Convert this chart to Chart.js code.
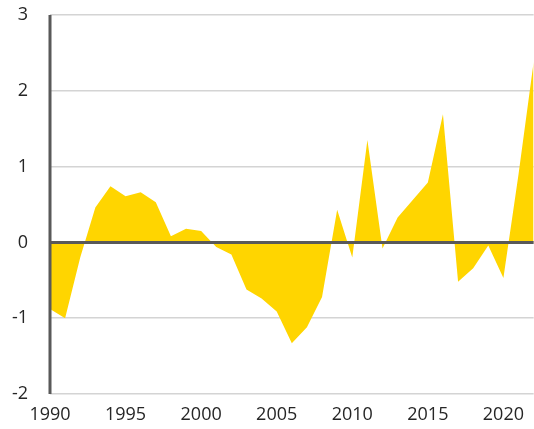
<!DOCTYPE html>
<html>
<head>
<meta charset="utf-8">
<script src="https://cdn.jsdelivr.net/npm/chart.js@4"></script>
<style>
  html, body { margin: 0; padding: 0; background: #fff; }
  #wrap { width: 534px; height: 429px; }
</style>
</head>
<body>
<div id="wrap"><canvas id="chart" width="534" height="429"></canvas></div>
<script>
// 年ごとの値
const years = [1990, 1991, 1992, 1993, 1994, 1995, 1996, 1997, 1998, 1999,
  2000, 2001, 2002, 2003, 2004, 2005, 2006, 2007, 2008, 2009,
  2010, 2011, 2012, 2013, 2014, 2015, 2016, 2017, 2018, 2019,
  2020, 2021, 2022]
const values = [-0.88, -1.0, -0.2, 0.46, 0.74, 0.61, 0.66, 0.53, 0.08, 0.18,
  0.15, -0.06, -0.16, -0.62, -0.74, -0.91, -1.33, -1.12, -0.72, 0.43,
  -0.2, 1.35, -0.08, 0.33, 0.56, 0.79, 1.69, -0.52, -0.34, -0.04,
  -0.47, 0.9, 2.38]
const xTicks = [1990, 1995, 2000, 2005, 2010, 2015, 2020]
const yTicks = [-2, -1, 0, 1, 2, 3]

const axisColor = '#595959'

// ゼロ線と左軸をデータの上に描く
const axisLines = {
  id: 'axisLines',
  afterDatasetsDraw(chart) {
    const { ctx, chartArea, scales } = chart
    const y0 = scales.y.getPixelForValue(0)
    ctx.save()
    ctx.strokeStyle = axisColor
    ctx.lineWidth = 3
    ctx.beginPath()
    ctx.moveTo(chartArea.left, y0)
    ctx.lineTo(chartArea.right, y0)
    ctx.stroke()
    ctx.beginPath()
    ctx.moveTo(chartArea.left, chartArea.top)
    ctx.lineTo(chartArea.left, chartArea.bottom)
    ctx.stroke()
    ctx.restore()
  }
}

const font = { family: "'Open Sans', 'Noto Sans', sans-serif", size: 18 }

new Chart(document.getElementById('chart'), {
  type: 'line',
  data: {
    datasets: [{
      data: years.map((yr, i) => ({ x: yr, y: values[i] })),
      fill: 'origin',
      backgroundColor: '#ffd500',
      borderWidth: 0,
      pointRadius: 0,
      tension: 0
    }]
  },
  options: {
    responsive: false,
    animation: false,
    layout: { padding: { top: 15, right: 0, left: 0, bottom: 0 } },
    plugins: {
      legend: { display: false },
      tooltip: { enabled: false }
    },
    scales: {
      x: {
        type: 'linear',
        min: years[0],
        max: years[years.length - 1],
        grid: { display: false, drawTicks: false },
        border: { display: false },
        afterBuildTicks: (axis) => { axis.ticks = xTicks.map(v => ({ value: v })) },
        afterFit: (axis) => { axis.height = 35 },
        ticks: {
          padding: 10,
          maxRotation: 0,
          autoSkip: false,
          color: '#262626',
          font: font,
          callback: (v) => String(v)
        }
      },
      y: {
        min: yTicks[0],
        max: yTicks[yTicks.length - 1],
        afterBuildTicks: (axis) => { axis.ticks = yTicks.map(v => ({ value: v })) },
        afterFit: (axis) => {
          axis.width = 50
          // ラベル余白が上端を押し下げないように
          axis.paddingTop = 0
          axis.paddingBottom = 0
        },
        grid: {
          drawTicks: false,
          color: (c) => c.tick && c.tick.value === 0 ? 'rgba(0,0,0,0)' : '#d4d4d4',
          lineWidth: 1.5
        },
        border: { display: false },
        ticks: {
          padding: 22,
          color: '#262626',
          font: font
        }
      }
    }
  },
  plugins: [axisLines]
})
</script>
</body>
</html>
